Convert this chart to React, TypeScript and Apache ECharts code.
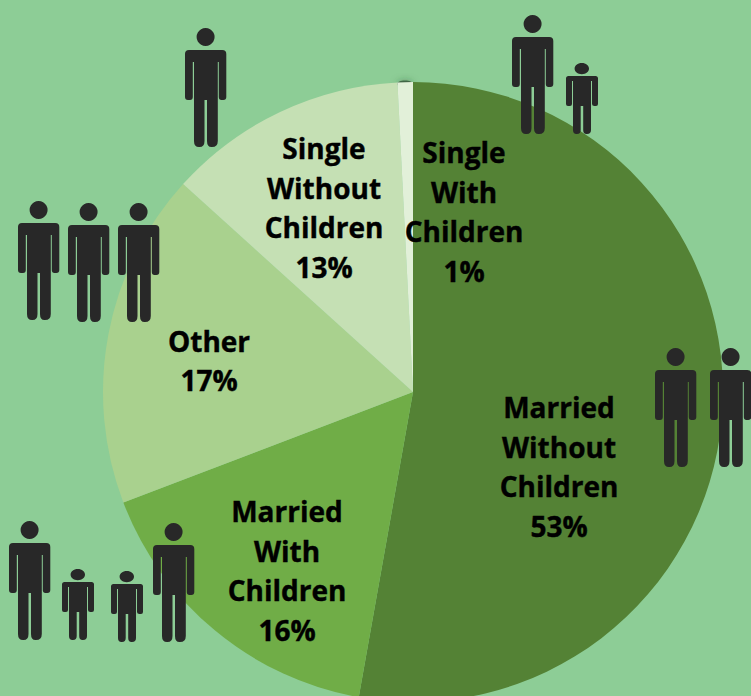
import React, { useEffect, useRef } from "react";
import * as echarts from "echarts";

const categories = [
  "Married\nWithout\nChildren",
  "Married\nWith\nChildren",
  "Other",
  "Single\nWithout\nChildren",
  "Single\nWith\nChildren",
];
const sliceValues = [52.8, 16.4, 17.5, 12.5, 0.8];
const percentLabels = ["53%", "16%", "17%", "13%", "1%"];
const sliceColors = ["#548235", "#70AD47", "#A9D18E", "#C5E0B4", "#E2F0D9"];
const labelCenters = [
  [559, 466.5],
  [287, 570.5],
  [209, 360.5],
  [324, 207.5],
  [464, 211.5],
];
const adults = [
  [512, 15], [185, 28], [18, 201], [68, 203], [118, 203],
  [9, 521], [153, 523], [655, 348], [710, 348],
];
const kids = [
  [566, 63], [62, 569], [111, 571],
];

const BG = "#8DCD96";
const INK = "#282828";

const ADULT_D =
  "M20.6 0 A9 9 0 1 1 20.59 0 Z " +
  "M4 22 H37.3 Q41.3 22 41.3 26 V69 Q41.3 72 38.3 72 H36.5 Q33.8 72 33.8 69 V34 H32.8 V113 Q32.8 119 27 119 H26.5 Q22 119 22 113 V72 H19.5 V113 Q19.5 119 14.5 119 H14 Q9 119 9 113 V34 H7.8 V69 Q7.8 72 5 72 H3 Q0 72 0 69 V26 Q0 22 4 22 Z";
const CHILD_D =
  "M15.8 0 C20 0 23 2.5 23 5.6 C23 8.8 20 11.2 15.8 11.2 C11.6 11.2 8.6 8.8 8.6 5.6 C8.6 2.5 11.6 0 15.8 0 Z " +
  "M2.5 13 H29.5 Q32 13 32 15.5 V41 Q32 43 30 43 H28.5 Q26 43 26 41 V18 H25 V67 Q25 71 21 71 H20.5 Q17.2 71 17.2 67 V43 H14.7 V67 Q14.7 71 11 71 H10.5 Q7 71 7 67 V18 H6 V41 Q6 43 4 43 H2 Q0 43 0 41 V15.5 Q0 13 2.5 13 Z";

echarts.graphic.registerShape("adultFigure", echarts.graphic.extendPath(ADULT_D, {}) as any);
echarts.graphic.registerShape("childFigure", echarts.graphic.extendPath(CHILD_D, {}) as any);

export default function App() {
  const ref = useRef<HTMLDivElement>(null);
  useEffect(() => {
    document.body.style.margin = "0";
    document.body.style.background = BG;
    const chart = echarts.init(ref.current!, null, { renderer: "svg" });
    chart.setOption({
      animation: false,
      backgroundColor: BG,
      series: [
        {
          type: "pie",
          z: 2,
          center: [413, 392],
          radius: 310,
          startAngle: 90,
          clockwise: true,
          silent: true,
          data: categories.map((name, i) => ({
            name,
            value: sliceValues[i],
            itemStyle: { color: sliceColors[i] },
          })),
          label: {
            show: true,
            position: "inside",
            color: "#000000",
            fontFamily: "Open Sans",
            fontWeight: "bold",
            fontSize: 28,
            lineHeight: 39.5,
            align: "center",
            verticalAlign: "middle",
            textBorderColor: "#000000",
            textBorderWidth: 0.4,
            formatter: (p: any) => `${p.name}\n${percentLabels[p.dataIndex]}`,
          },
          labelLine: { show: false },
          labelLayout: (p: any) => ({
            x: labelCenters[p.dataIndex][0],
            y: labelCenters[p.dataIndex][1],
            align: "center",
            verticalAlign: "middle",
          }),
        },
      ],
      graphic: {
        elements: [
          {
            type: "ellipse",
            z: 1,
            shape: { cx: 405, cy: 84, rx: 8, ry: 3.5 },
            style: { fill: "rgba(40,70,45,0.7)", shadowBlur: 7, shadowColor: "rgba(40,70,45,0.6)" },
          },
          ...adults.map(([x, y]) => ({
            type: "adultFigure",
            z: 10,
            x,
            y,
            style: { fill: INK },
          })),
          ...kids.map(([x, y]) => ({
            type: "childFigure",
            z: 10,
            x,
            y,
            style: { fill: INK },
          })),
        ],
      },
    });
    return () => chart.dispose();
  }, []);
  return (
    <div
      ref={ref}
      style={{ position: "absolute", left: 0, top: 0, width: 751, height: 696, overflow: "hidden" }}
    />
  );
}
